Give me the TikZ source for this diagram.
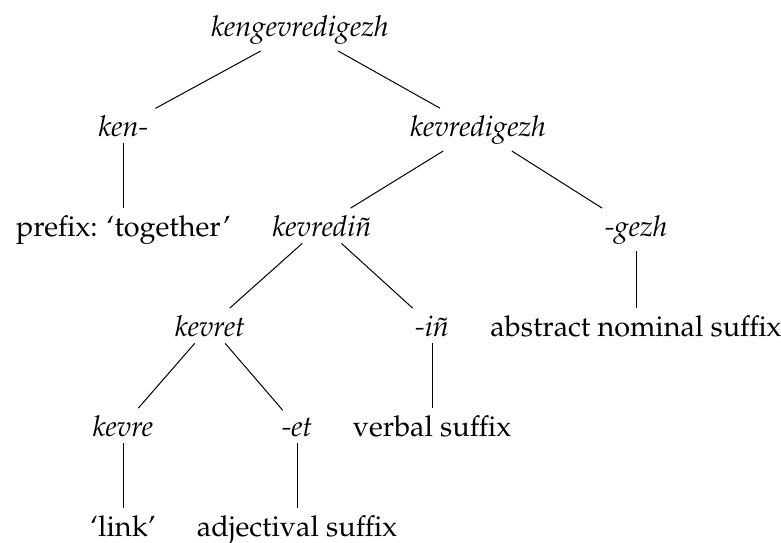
\documentclass[tikz,border=0pt]{standalone}
\usepackage[T1]{fontenc}
\usepackage{mathpazo}
\begin{document}
\begin{tikzpicture}[x=0.5pt,y=-0.5pt,
  w/.style={anchor=base,inner sep=0.3333em,font=\fontsize{14.4}{17}\selectfont},
  edge/.style={draw=black,line width=0.5pt}]
\useasboundingbox (0,0) rectangle (781,542);
\node[w] (root) at (300,36) {\textit{kengevredigezh}};
\node[w] (ken) at (123.5,136) {\textit{ken-}};
\node[w] (kevredigezh) at (478,136) {\textit{kevredigezh}};
\node[w] (prefix) at (123.5,236) {prefix: `together'};
\node[w] (kevredin) at (322,236) {\textit{kevredi\~n}};
\node[w] (gezh) at (636,236) {\textit{-gezh}};
\node[w] (kevret) at (210,336) {\textit{kevret}};
\node[w] (in) at (432,336) {\textit{-i\~n}};
\node[w] (abstract) at (636,336) {abstract nominal suffix};
\node[w] (kevre) at (123,436) {\textit{kevre}};
\node[w] (et) at (297,436) {\textit{-et}};
\node[w] (verbal) at (432,436) {verbal suffix};
\node[w] (link) at (123,536) {`link'};
\node[w] (adj) at (297,536) {adjectival suffix};
\draw[edge] (root) -- (ken);
\draw[edge] (root) -- (kevredigezh);
\draw[edge] (ken) -- (prefix);
\draw[edge] (kevredigezh) -- (kevredin);
\draw[edge] (kevredigezh) -- (gezh);
\draw[edge] (kevredin) -- (kevret);
\draw[edge] (kevredin) -- (in);
\draw[edge] (gezh) -- (abstract);
\draw[edge] (kevret) -- (kevre);
\draw[edge] (kevret) -- (et);
\draw[edge] (in) -- (verbal);
\draw[edge] (kevre) -- (link);
\draw[edge] (et) -- (adj);
\end{tikzpicture}
\end{document}
